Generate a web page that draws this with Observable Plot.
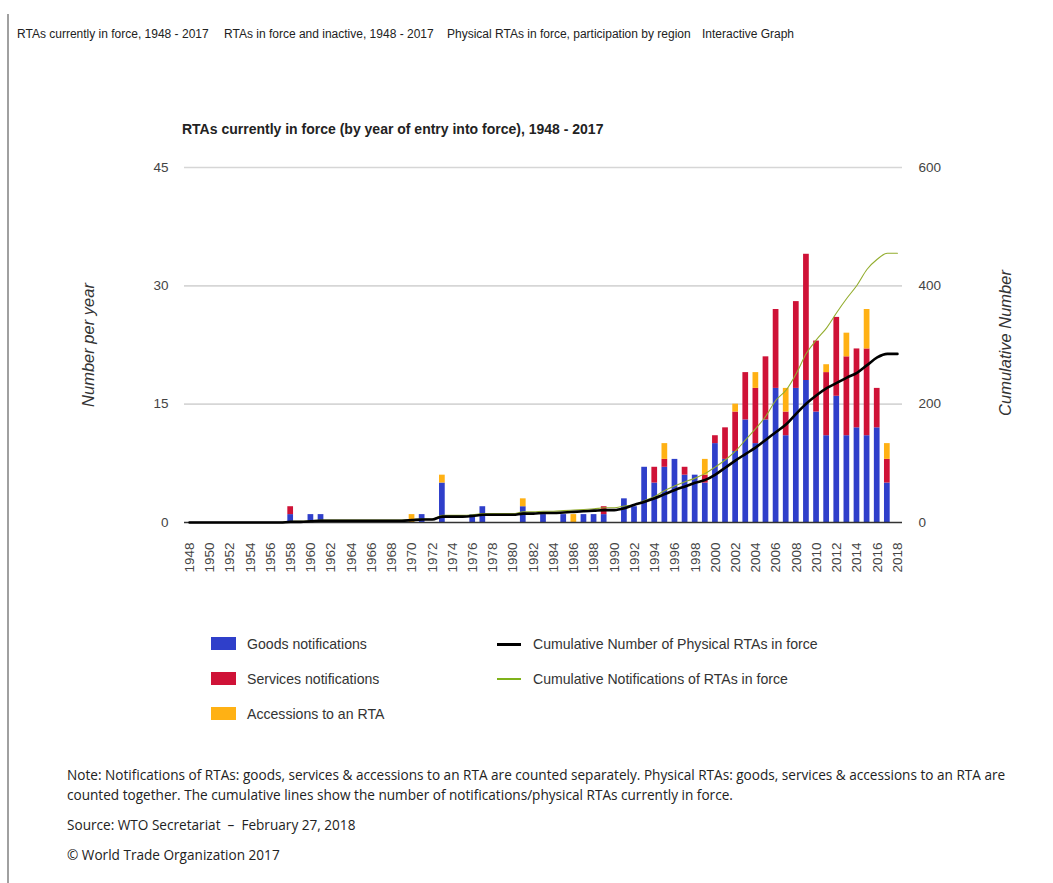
<!DOCTYPE html>
<html><head><meta charset="utf-8">
<script src="https://cdn.jsdelivr.net/npm/d3@7"></script>
<script src="https://cdn.jsdelivr.net/npm/@observablehq/plot@0.6"></script>
<style>
body{margin:0;background:#fff;width:1053px;height:883px;position:relative;overflow:hidden;font-family:"Liberation Sans",Arial,sans-serif;}
#border{position:absolute;left:7px;top:14px;width:2px;height:869px;background:#a0a0a0;}
.tab{position:absolute;top:27px;font-family:"Liberation Sans",Arial,sans-serif;font-size:12px;color:#222;white-space:nowrap;}
#title{position:absolute;left:182px;top:121px;font-weight:bold;font-size:14px;color:#222;white-space:nowrap;}
#chart{position:absolute;left:0;top:0}
.axlab{position:absolute;font-style:italic;font-size:16.5px;color:#333;white-space:nowrap;transform:translate(-50%,-50%) rotate(-90deg);}
.leg{position:absolute;font-size:14.1px;color:#333;white-space:nowrap;line-height:16px;}
.sw{position:absolute;width:25px;height:13px;}
.ln{position:absolute;width:24px;}
.note{position:absolute;left:67px;font-family:"Open Sans",sans-serif;font-size:13.6px;color:#222;white-space:nowrap;line-height:20px;}
</style></head>
<body>
<div id="border"></div>
<div class="tab" style="left:17px">RTAs currently in force, 1948 - 2017</div>
<div class="tab" style="left:224px">RTAs in force and inactive, 1948 - 2017</div>
<div class="tab" style="left:447px">Physical RTAs in force, participation by region</div>
<div class="tab" style="left:702px">Interactive Graph</div>
<div id="title">RTAs currently in force (by year of entry into force), 1948 - 2017</div>
<div id="chart"></div>
<div class="axlab" style="left:88px;top:345px">Number per year</div>
<div class="axlab" style="left:1005px;top:343px">Cumulative Number</div>
<div id="legend"></div>
<div class="note" style="top:765px">Note: Notifications of RTAs: goods, services &amp; accessions to an RTA are counted separately. Physical RTAs: goods, services &amp; accessions to an RTA are<br>counted together. The cumulative lines show the number of notifications/physical RTAs currently in force.</div>
<div class="note" style="top:815px">Source: WTO Secretariat &nbsp;&ndash;&nbsp; February 27, 2018</div>
<div class="note" style="top:845px">&copy; World Trade Organization 2017</div>
<script>
// ---- data ----
const years = [1948,1949,1950,1951,1952,1953,1954,1955,1956,1957,1958,1959,1960,1961,1962,1963,1964,1965,1966,1967,1968,1969,1970,1971,1972,1973,1974,1975,1976,1977,1978,1979,1980,1981,1982,1983,1984,1985,1986,1987,1988,1989,1990,1991,1992,1993,1994,1995,1996,1997,1998,1999,2000,2001,2002,2003,2004,2005,2006,2007,2008,2009,2010,2011,2012,2013,2014,2015,2016,2017];
const goods =      [0,0,0,0,0,0,0,0,0,0, 1,0,1,1,0,0,0,0,0,0, 0,0,0,1,0,5,0,0,1,2, 0,0,0,2,0,1,0,1,0,1, 1,1,0,3,2,7,5,7,8,6, 6,5,10,8,9,13,10,13,17,11, 17,18,14,11,16,11,12,11,12,5];
const services =   [0,0,0,0,0,0,0,0,0,0, 1,0,0,0,0,0,0,0,0,0, 0,0,0,0,0,0,0,0,0,0, 0,0,0,0,0,0,0,0,0,0, 0,1,0,0,0,0,2,1,0,1, 0,1,1,4,5,6,7,8,10,3, 11,16,9,8,10,10,10,11,5,3];
const accessions = [0,0,0,0,0,0,0,0,0,0, 0,0,0,0,0,0,0,0,0,0, 0,0,1,0,0,1,0,0,0,0, 0,0,0,1,0,0,0,0,1,0, 0,0,0,0,0,0,0,2,0,0, 0,2,0,0,1,0,2,0,0,3, 0,0,0,1,0,3,0,5,0,2];
const lineYears = [1948,1949,1950,1951,1952,1953,1954,1955,1956,1957,1958,1959,1960,1961,1962,1963,1964,1965,1966,1967,1968,1969,1970,1971,1972,1973,1974,1975,1976,1977,1978,1979,1980,1981,1982,1983,1984,1985,1986,1987,1988,1989,1990,1991,1992,1993,1994,1995,1996,1997,1998,1999,2000,2001,2002,2003,2004,2005,2006,2007,2008,2009,2010,2011,2012,2013,2014,2015,2016,2017,2018];
const cumPhysical = [0,0,0,0,0,0,0,0,0,0, 1,1,2,3,3,3,3,3,3,3, 3,3,4,5,5,10,10,10,11,13, 13,13,13,15,15,16,16,17,18,19, 20,21,21,24,30,35,41,48,55,61, 67,72,81,93,105,116,127,140,153,166, 184,201,215,227,236,245,253,266,279,285,285];
const cumNotifications = [0,0,0,0,0,0,0,0,0,0, 2,2,3,4,4,4,4,4,4,4, 4,4,5,6,6,12,12,12,13,15, 15,15,15,18,18,19,19,20,21,22, 23,25,25,28,30,37,44,54,62,69, 75,83,94,106,121,140,159,180,207,224, 252,286,309,329,355,379,401,428,445,455,455];
const leftTicks = [0,15,30,45];
const rightTickLabels = ["0","200","400","600"];
const rightMax = 600;
const yearTicks = [1948,1950,1952,1954,1956,1958,1960,1962,1964,1966,1968,1970,1972,1974,1976,1978,1980,1982,1984,1986,1988,1990,1992,1994,1996,1998,2000,2002,2004,2006,2008,2010,2012,2014,2016,2018];
const seriesNames = ["Goods notifications","Services notifications","Accessions to an RTA"];
const seriesColors = ["#2f3fca","#cf1237","#ffb114"];
const lineNames = ["Cumulative Number of Physical RTAs in force","Cumulative Notifications of RTAs in force"];
const lineColors = ["#000000","#93ad2e"];

// ---- build tables ----
const barData = [];
[goods, services, accessions].forEach((arr, k) => {
  arr.forEach((v, i) => { if (v > 0) barData.push({year: years[i], value: v, type: seriesNames[k]}); });
});
const lineData = lineYears.map((y, i) => ({year: y, phys: cumPhysical[i], notif: cumNotifications[i]}));
const toLeft = v => v * leftTicks[leftTicks.length - 1] / rightMax;
const yearInterval = {floor: x => x - 0.5, offset: (x, n = 1) => x + n};

const chart = Plot.plot({
  width: 1053, height: 600,
  marginTop: 167, marginBottom: 78, marginLeft: 184, marginRight: 151,
  x: {type: "linear", domain: [1947.5, 2018.5]},
  y: {domain: [0, 45]},
  color: {domain: seriesNames, range: seriesColors},
  style: {fontFamily: "'Liberation Sans', Arial, sans-serif", fontSize: "12px", color: "#444", background: "transparent", overflow: "visible"},
  marks: [
    Plot.gridY({ticks: leftTicks.slice(1), stroke: "#d6d6d6", strokeOpacity: 1, strokeWidth: 1.6}),
    Plot.rectY(barData, {x: "year", y: "value", fill: "type", interval: yearInterval, insetLeft: 2.2, insetRight: 2.2}),
    Plot.ruleY([0], {stroke: "#333", strokeWidth: 1.5}),
    Plot.line(lineData, {x: "year", y: d => toLeft(d.notif), stroke: lineColors[1], strokeWidth: 1.1, curve: "monotone-x"}),
    Plot.line(lineData, {x: "year", y: d => toLeft(d.phys), stroke: lineColors[0], strokeWidth: 2.6, curve: "monotone-x"}),
    Plot.axisY({ticks: leftTicks, anchor: "left", tickSize: 0, tickPadding: 16, label: null, fontSize: 13.5}),
    Plot.axisY({ticks: leftTicks, anchor: "right", tickSize: 0, tickPadding: 16, label: null, fontSize: 13.5, tickFormat: d => rightTickLabels[leftTicks.indexOf(d)]}),
    Plot.axisX({ticks: yearTicks, anchor: "bottom", tickSize: 0, tickPadding: 20, tickRotate: -90, tickFormat: d => String(d), label: null, fontSize: 13.5})
  ]
});
document.getElementById("chart").appendChild(chart);

// ---- legend ----
const leg = document.getElementById("legend");
const rowsY = [644, 679, 714];
seriesNames.forEach((n, i) => {
  const s = document.createElement("div"); s.className = "sw";
  s.style.left = "211px"; s.style.top = (rowsY[i] - 7) + "px"; s.style.background = seriesColors[i];
  leg.appendChild(s);
  const t = document.createElement("div"); t.className = "leg";
  t.style.left = "247px"; t.style.top = (rowsY[i] - 8) + "px"; t.textContent = n;
  leg.appendChild(t);
});
lineNames.forEach((n, i) => {
  const s = document.createElement("div"); s.className = "ln";
  s.style.left = "497px"; s.style.top = (rowsY[i] - 1.5) + "px";
  s.style.height = i === 0 ? "3px" : "2px"; s.style.background = i === 0 ? lineColors[0] : "#7fb21a";
  leg.appendChild(s);
  const t = document.createElement("div"); t.className = "leg";
  t.style.left = "533px"; t.style.top = (rowsY[i] - 8) + "px"; t.textContent = n;
  leg.appendChild(t);
});
</script>
</body></html>
